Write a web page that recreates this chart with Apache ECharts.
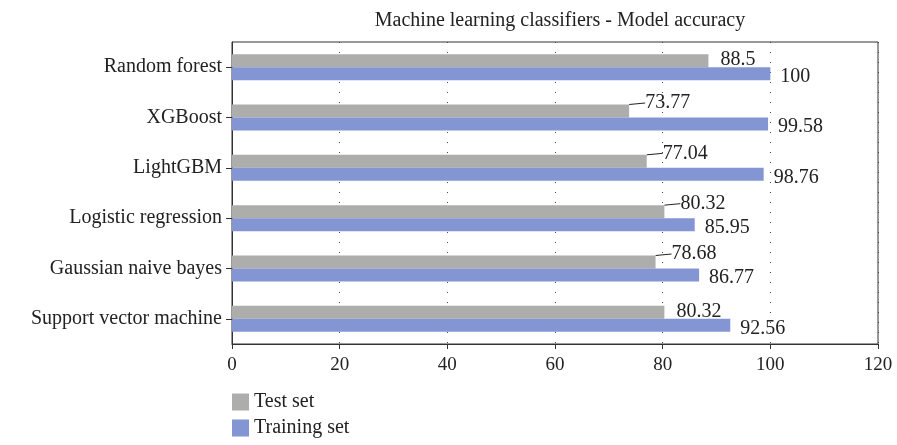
<!DOCTYPE html>
<html>
<head>
<meta charset="utf-8">
<script src="https://cdn.jsdelivr.net/npm/echarts@6/dist/echarts.min.js"></script>
<style>
  html, body { margin: 0; padding: 0; background: #fff; }
  #chart { width: 897px; height: 445px; }
</style>
</head>
<body>
<div id="chart"></div>
<script>
  const categories = ['Random forest', 'XGBoost', 'LightGBM', 'Logistic regression', 'Gaussian naive bayes', 'Support vector machine'];
  const testSet = [88.5, 73.77, 77.04, 80.32, 78.68, 80.32];
  const trainingSet = [100, 99.58, 98.76, 85.95, 86.77, 92.56];
  const xTicks = [0, 20, 40, 60, 80, 100, 120];

  // which test-set labels are pushed off the bar end with a small leader line
  const movedLabels = [false, true, true, true, true, false];

  const font = '"Liberation Serif", "DejaVu Serif", serif';
  const myChart = echarts.init(document.getElementById('chart'));

  const chartOption = {
    animation: false,
    textStyle: { fontFamily: font },
    title: {
      text: 'Machine learning classifiers - Model accuracy',
      left: 555,
      top: 6,
      textAlign: 'center',
      textStyle: { fontFamily: font, fontSize: 20, fontWeight: 'normal', color: '#222' }
    },
    legend: {
      orient: 'vertical',
      left: 232,
      top: 392,
      padding: 0,
      itemWidth: 17,
      itemHeight: 17,
      itemGap: 6,
      icon: 'rect',
      textStyle: { fontFamily: font, fontSize: 20, color: '#222', lineHeight: 20 },
      data: ['Test set', 'Training set']
    },
    grid: {
      left: 232,
      right: 19,
      top: 42,
      bottom: 101,
      show: true,
      borderColor: '#333',
      borderWidth: 1
    },
    xAxis: {
      type: 'value',
      min: xTicks[0],
      max: xTicks[xTicks.length - 1],
      interval: 20,
      axisLine: { show: true, lineStyle: { color: '#333' } },
      axisTick: { show: true, length: 5, lineStyle: { color: '#333' } },
      axisLabel: { fontFamily: font, fontSize: 19, color: '#222', margin: 12 },
      splitLine: { show: true, lineStyle: { color: '#444', type: [1, 9], width: 1 } }
    },
    yAxis: {
      type: 'category',
      inverse: true,
      data: categories,
      axisLine: { show: true, lineStyle: { color: '#333' } },
      axisTick: { show: true, alignWithLabel: true, length: 6, lineStyle: { color: '#333' } },
      axisLabel: { fontFamily: font, fontSize: 20, color: '#222', margin: 10 }
    },
    series: [
      {
        name: 'Test set',
        type: 'bar',
        barWidth: 13,
        barGap: 0,
        data: testSet.map((v, i) => ({
          value: v,
          labelLine: { show: movedLabels[i] }
        })),
        itemStyle: { color: '#ADADAB' },
        label: {
          show: true,
          position: 'right',
          distance: 12,
          fontFamily: font,
          fontSize: 20,
          color: '#222'
        },
        labelLine: { lineStyle: { color: '#222', width: 1 } },
        labelLayout: function (params) {
          if (movedLabels[params.dataIndex]) {
            return { dx: 4, dy: -8 };
          }
          return { dy: -1 };
        }
      },
      {
        name: 'Training set',
        type: 'bar',
        barWidth: 13,
        data: trainingSet,
        itemStyle: { color: '#8495D3' },
        label: {
          show: true,
          position: 'right',
          distance: 10,
          fontFamily: font,
          fontSize: 20,
          color: '#222'
        },
        labelLayout: { dy: 3 }
      }
    ]
  };
  myChart.setOption(chartOption);
</script>
</body>
</html>
